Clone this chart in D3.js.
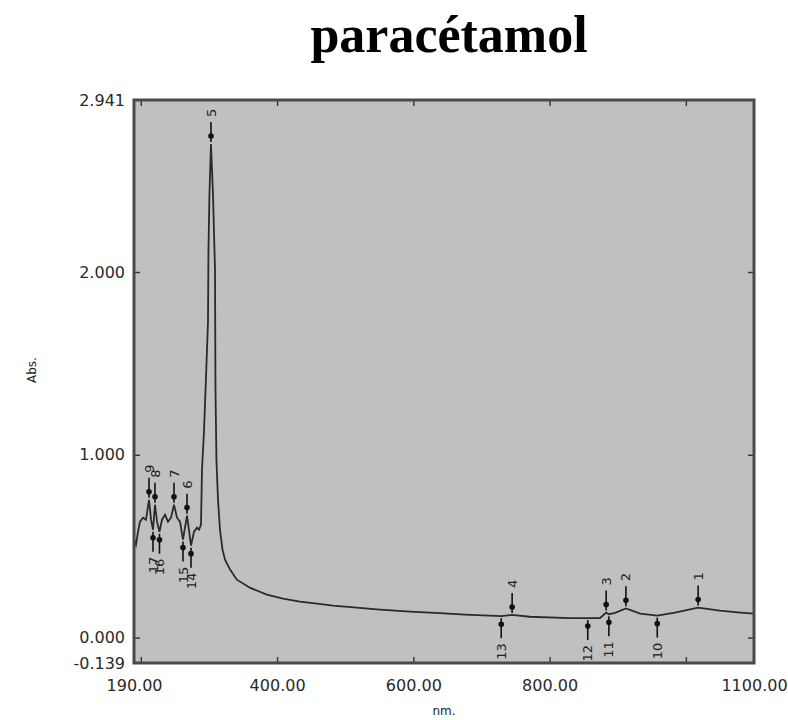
<!DOCTYPE html>
<html><head><meta charset="utf-8">
<script src="https://cdn.jsdelivr.net/npm/d3@7"></script>
<style>body{margin:0;background:#fff}svg{display:block}</style>
</head><body>
<script>
// ---- data ----
const wavelength = [190, 192.9, 195.9, 198.8, 203.2, 207.6, 212.0, 215.0, 217.9, 220.8, 223.8, 227.4, 231.1, 235.5, 239.9, 244.3, 248.7, 253.1, 257.5, 261.9, 267.8, 273.7, 278.1, 282.5, 285.4, 288.3, 289.8, 292.7, 295.7, 298.6, 299.3, 300.7, 303, 306, 308.9, 309.6, 311, 313.3, 316.2, 319.9, 323.6, 331, 341, 360, 385, 408.7, 433.6, 458.6, 482, 517, 551, 595, 639, 676, 729, 745, 771, 830, 856, 874, 883, 887, 896, 912, 933, 958, 984, 1018, 1050, 1080, 1100];
const absorbance = [0.536, 0.508, 0.579, 0.634, 0.656, 0.645, 0.754, 0.645, 0.590, 0.727, 0.634, 0.579, 0.645, 0.672, 0.634, 0.656, 0.727, 0.656, 0.634, 0.536, 0.667, 0.503, 0.579, 0.601, 0.590, 0.617, 0.918, 1.126, 1.426, 1.727, 2.12, 2.42, 2.70, 2.42, 2.01, 1.355, 0.973, 0.754, 0.590, 0.481, 0.426, 0.372, 0.317, 0.273, 0.235, 0.213, 0.197, 0.186, 0.175, 0.164, 0.153, 0.142, 0.134, 0.126, 0.117, 0.124, 0.114, 0.107, 0.107, 0.107, 0.137, 0.128, 0.135, 0.160, 0.131, 0.120, 0.137, 0.164, 0.148, 0.137, 0.131];

const peakNo  = [1, 2, 3, 4, 5, 6, 7, 8, 9];
const peakNm  = [1018, 912, 883, 745, 303, 267.8, 248.7, 220.8, 212.0];
const peakAbs = [0.164, 0.160, 0.137, 0.124, 2.70, 0.667, 0.727, 0.727, 0.754];

const valleyNo  = [10, 11, 12, 13, 14, 15, 16, 17];
const valleyNm  = [958, 887, 856, 729, 273.7, 261.9, 227.4, 217.9];
const valleyAbs = [0.120, 0.128, 0.107, 0.117, 0.503, 0.536, 0.579, 0.590];

const xTicks = [200, 400, 600, 800, 1000];
const xLabels = [190, 400, 600, 800, 1100];
const yTicks = [0, 1, 2];
const yLabels = [2.941, 2, 1, 0, -0.139];

const title = "paracétamol";
const xTitle = "nm.";
const yTitle = "Abs.";

// ---- chart ----
const W = 788, H = 720;
const L = 134, R = 754, T = 100, B = 663;
const font = "DejaVu Sans, Verdana, sans-serif";
const svg = d3.select("body").append("svg").attr("width", W).attr("height", H);

const x = d3.scaleLinear().domain([190, 1100]).range([L, R]);
const y = d3.scaleLinear().domain([-0.139, 2.941]).range([B, T]);

svg.append("rect").attr("x", L).attr("y", T).attr("width", R - L).attr("height", B - T)
  .attr("fill", "#c0c0c0");

const tickAxis = (g, axis) => { g.call(axis); g.select(".domain").remove();
  g.selectAll("line").attr("stroke", "#333").attr("stroke-width", 1.4); };

svg.append("g").attr("transform", `translate(0,${B})`)
  .call(g => tickAxis(g, d3.axisBottom(x).tickValues(xTicks).tickSize(-6).tickFormat("")));
svg.append("g").attr("transform", `translate(0,${T})`)
  .call(g => tickAxis(g, d3.axisTop(x).tickValues(xTicks).tickSize(-6).tickFormat("")));
svg.append("g").attr("transform", `translate(${L},0)`)
  .call(g => tickAxis(g, d3.axisLeft(y).tickValues(yTicks).tickSize(-6).tickFormat("")));
svg.append("g").attr("transform", `translate(${R},0)`)
  .call(g => tickAxis(g, d3.axisRight(y).tickValues(yTicks).tickSize(-6).tickFormat("")));

// labels
const lab = g => { g.select(".domain").remove(); g.selectAll("line").remove();
  g.selectAll("text").attr("font-family", font)
   .attr("font-size", 16).attr("fill", "#2a2a2a"); };
svg.append("g").attr("transform", `translate(0,${B})`)
  .call(d3.axisBottom(x).tickValues(xLabels).tickSize(0).tickPadding(17).tickFormat(d => d.toFixed(2)))
  .call(lab);
svg.append("g").attr("transform", `translate(${L},0)`)
  .call(d3.axisLeft(y).tickValues(yLabels).tickSize(0).tickPadding(9).tickFormat(d => d.toFixed(3)))
  .call(lab);

// curve
const pts = wavelength.map((w, i) => [w, absorbance[i]]);
svg.append("path").datum(pts)
  .attr("d", d3.line().x(d => x(d[0])).y(d => y(d[1])))
  .attr("fill", "none").attr("stroke", "#2a2a2a").attr("stroke-width", 1.8);

// markers
const mk = svg.append("g");
peakNo.forEach((n, i) => {
  const px = x(peakNm[i]), py = y(peakAbs[i]);
  mk.append("line").attr("x1", px).attr("x2", px).attr("y1", py - 2).attr("y2", py - 22)
    .attr("stroke", "#111").attr("stroke-width", 1.6);
  mk.append("circle").attr("cx", px).attr("cy", py - 8).attr("r", 2.8).attr("fill", "#111");
  mk.append("text").attr("transform", `translate(${px},${py - 27}) rotate(-90)`)
    .attr("dy", "0.35em").attr("text-anchor", "start").attr("font-family", font)
    .attr("font-size", 13).attr("fill", "#222").text(n);
});
valleyNo.forEach((n, i) => {
  const px = x(valleyNm[i]), py = y(valleyAbs[i]);
  mk.append("line").attr("x1", px).attr("x2", px).attr("y1", py + 2).attr("y2", py + 22)
    .attr("stroke", "#111").attr("stroke-width", 1.6);
  mk.append("circle").attr("cx", px).attr("cy", py + 8).attr("r", 2.8).attr("fill", "#111");
  mk.append("text").attr("transform", `translate(${px},${py + 27}) rotate(-90)`)
    .attr("dy", "0.35em").attr("text-anchor", "end").attr("font-family", font)
    .attr("font-size", 13).attr("fill", "#222").text(n);
});

// frame
svg.append("rect").attr("x", L).attr("y", T).attr("width", R - L).attr("height", B - T)
  .attr("fill", "none").attr("stroke", "#4a4a4a").attr("stroke-width", 3);

// titles
svg.append("text").attr("x", 449).attr("y", 52).attr("text-anchor", "middle")
  .attr("font-family", "Liberation Serif, Times New Roman, serif").attr("font-weight", "bold")
  .attr("font-size", 52).attr("fill", "#000").text(title);
svg.append("text").attr("x", 444).attr("y", 715).attr("text-anchor", "middle")
  .attr("font-family", font).attr("font-size", 12).attr("fill", "#222").text(xTitle);
svg.append("text").attr("transform", "translate(36,370) rotate(-90)").attr("text-anchor", "middle")
  .attr("font-family", font).attr("font-size", 12).attr("fill", "#222").text(yTitle);
</script>
</body></html>
